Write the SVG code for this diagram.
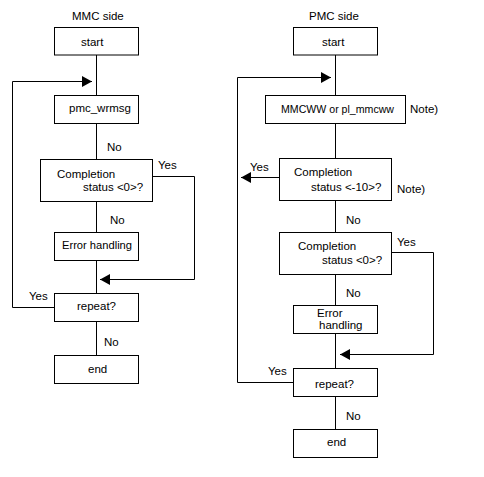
<svg xmlns="http://www.w3.org/2000/svg" width="484" height="477" viewBox="0 0 484 477">
<style>
.b{fill:#fff;stroke:#000;stroke-width:1}
.c{fill:none;stroke:#000;stroke-width:1}
text{font-family:"Liberation Sans",Arial,sans-serif;font-size:11.5px;fill:#000}
</style>
<defs>
<marker id="ah" markerUnits="userSpaceOnUse" markerWidth="11" markerHeight="12" refX="10" refY="5.5" orient="auto">
<path d="M0,0 L10,5.5 L0,11 z" fill="#000"/>
</marker>
</defs>
<rect width="484" height="477" fill="#fff"/>
<g id="connectors">
<path class="c" d="M96.5 55 V95.5 M96.5 123.5 V159.5 M96.5 201.5 V232.5 M96.5 260.5 V293.5 M96.5 321.5 V355.5"/>
<path class="c" d="M54.5 307.5 H12.5 V81.5 H92" marker-end="url(#ah)"/>
<path class="c" d="M152.5 176.5 H194.5 V279.5 H100" marker-end="url(#ah)"/>
<path class="c" d="M335.5 55 V95.5 M335.5 123.5 V158.5 M335.5 200.5 V232.5 M335.5 274.5 V305.5 M335.5 333.5 V368.5 M335.5 396.5 V429.5"/>
<path class="c" d="M293.5 382.5 H237.5 V77.5 H331" marker-end="url(#ah)"/>
<path class="c" d="M279.5 177.5 H241" marker-end="url(#ah)"/>
<path class="c" d="M391.5 252.5 H433.5 V354.5 H340" marker-end="url(#ah)"/>
</g>
<g id="labels">
<text x="72" y="20">MMC side</text>
<text x="309" y="20">PMC side</text>
<text x="107" y="151">No</text>
<text x="158" y="169">Yes</text>
<text x="110" y="224">No</text>
<text x="29" y="300">Yes</text>
<text x="104" y="346">No</text>
<text x="410" y="113">Note)</text>
<text x="250" y="171">Yes</text>
<text x="397" y="193">Note)</text>
<text x="346" y="224">No</text>
<text x="397" y="246">Yes</text>
<text x="346" y="297">No</text>
<text x="268" y="375">Yes</text>
<text x="346" y="420">No</text>
</g>
<g id="l-start"><rect class="b" x="54.5" y="27.5" width="84" height="27.5"/><text x="81" y="46">start</text></g>
<g id="l-wrmsg"><rect class="b" x="54.5" y="95.5" width="84" height="28"/><text x="69" y="112">pmc_wrmsg</text></g>
<g id="l-status"><rect class="b" x="40.5" y="159.5" width="112" height="42"/><text x="57" y="178">Completion</text><text x="83" y="191">status &lt;0&gt;?</text></g>
<g id="l-error"><rect class="b" x="54.5" y="232.5" width="84" height="28"/><text x="62" y="249" textLength="70" lengthAdjust="spacingAndGlyphs">Error handling</text></g>
<g id="l-repeat"><rect class="b" x="54.5" y="293.5" width="84" height="28"/><text x="77" y="310">repeat?</text></g>
<g id="l-end"><rect class="b" x="54.5" y="355.5" width="84" height="28"/><text x="88" y="373">end</text></g>
<g id="r-start"><rect class="b" x="293.5" y="27.5" width="84" height="27.5"/><text x="322" y="46">start</text></g>
<g id="r-mmcww"><rect class="b" x="265.5" y="95.5" width="140" height="28"/><text x="281" y="113" textLength="113" lengthAdjust="spacingAndGlyphs">MMCWW or pl_mmcww</text></g>
<g id="r-status10"><rect class="b" x="279.5" y="158.5" width="112" height="42"/><text x="294" y="176">Completion</text><text x="311" y="191">status &lt;-10&gt;?</text></g>
<g id="r-status0"><rect class="b" x="279.5" y="232.5" width="112" height="42"/><text x="298" y="250">Completion</text><text x="322" y="264">status &lt;0&gt;?</text></g>
<g id="r-error"><rect class="b" x="293.5" y="305.5" width="84" height="28"/><text x="317" y="317">Error</text><text x="319" y="329">handling</text></g>
<g id="r-repeat"><rect class="b" x="293.5" y="368.5" width="84" height="28"/><text x="315" y="388">repeat?</text></g>
<g id="r-end"><rect class="b" x="293.5" y="429.5" width="84" height="28"/><text x="327" y="446">end</text></g>
</svg>
